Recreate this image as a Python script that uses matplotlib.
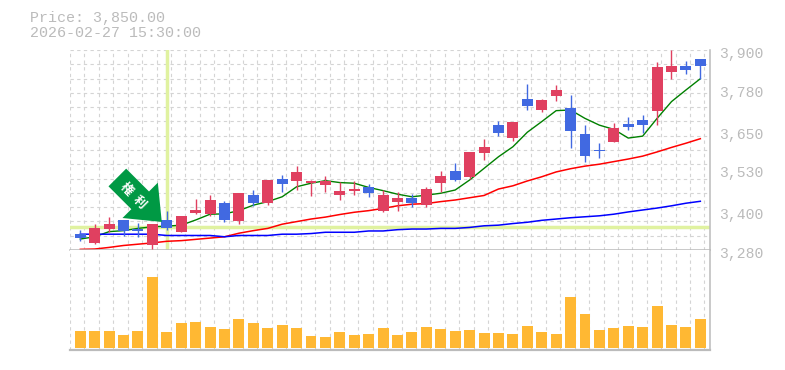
import matplotlib
matplotlib.use('Agg')
import matplotlib.pyplot as plt

# candles, oldest first
opens = [3329, 3302, 3345, 3373, 3345, 3295, 3373, 3336, 3394, 3392, 3426,
         3370, 3450, 3426, 3500, 3494, 3488, 3481, 3450, 3463, 3475, 3401,
         3429, 3441, 3419, 3488, 3525, 3506, 3581, 3667, 3627, 3748, 3714,
         3757, 3720, 3640, 3590, 3615, 3671, 3683, 3711, 3832, 3850, 3872]
highs = [3341, 3361, 3382, 3373, 3365, 3361, 3401, 3385, 3438, 3450, 3432,
         3457, 3466, 3497, 3512, 3540, 3497, 3509, 3491, 3494, 3485, 3466,
         3460, 3454, 3475, 3525, 3550, 3584, 3624, 3680, 3677, 3795, 3748,
         3791, 3760, 3667, 3612, 3674, 3692, 3698, 3863, 3900, 3866, 3872]
lows = [3308, 3299, 3337, 3324, 3320, 3283, 3342, 3336, 3392, 3385, 3367,
        3361, 3416, 3419, 3460, 3466, 3447, 3460, 3435, 3450, 3444, 3398,
        3401, 3413, 3413, 3460, 3494, 3500, 3559, 3633, 3618, 3714, 3708,
        3742, 3596, 3553, 3565, 3615, 3652, 3643, 3667, 3810, 3826, 3810]
closes = [3317, 3348, 3361, 3339, 3340, 3361, 3348, 3385, 3404, 3435, 3373,
          3457, 3426, 3497, 3485, 3522, 3494, 3494, 3463, 3469, 3457, 3450,
          3441, 3426, 3469, 3509, 3497, 3584, 3599, 3643, 3677, 3726, 3745,
          3776, 3649, 3571, 3588, 3658, 3661, 3667, 3847, 3850, 3838, 3850]

# moving averages
ma_short = [3314, 3321, 3337, 3340, 3347, 3352, 3354, 3357, 3373, 3391, 3392,
            3402, 3419, 3430, 3445, 3476, 3487, 3495, 3489, 3487, 3474, 3464,
            3453, 3445, 3450, 3456, 3466, 3497, 3533, 3569, 3600, 3645, 3678,
            3712, 3714, 3688, 3667, 3654, 3627, 3633, 3688, 3740, 3776, 3811]
ma_mid = [3282, 3283, 3288, 3294, 3298, 3302, 3307, 3309, 3313, 3317, 3321,
          3332, 3340, 3347, 3360, 3368, 3376, 3382, 3390, 3397, 3402, 3409,
          3417, 3422, 3424, 3430, 3435, 3442, 3449, 3469, 3479, 3494, 3507,
          3522, 3532, 3540, 3546, 3554, 3562, 3571, 3584, 3598, 3611, 3625]
ma_long = [3329, 3329, 3329, 3329, 3329, 3329, 3325, 3325, 3325, 3325, 3321,
           3325, 3325, 3325, 3329, 3329, 3331, 3335, 3335, 3335, 3339, 3339,
           3343, 3345, 3345, 3347, 3347, 3350, 3355, 3357, 3362, 3366, 3372,
           3376, 3380, 3383, 3386, 3391, 3398, 3404, 3410, 3417, 3425, 3431]

volumes = [51, 51, 51, 39, 51, 213, 48, 75, 78, 63, 57, 87, 75, 60, 69, 60,
           36, 33, 48, 39, 42, 60, 39, 48, 63, 57, 51, 54, 45, 45, 42, 66,
           48, 42, 153, 102, 54, 60, 66, 63, 126, 69, 63, 87]

date_labels = ['', '', '', '', '12/26', '', '', '', '', '1/7', '', '', '', '',
               '1/15', '', '', '', '', '1/22', '', '', '', '', '1/29', '', '',
               '', '', '2/5', '', '', '', '', '2/13', '', '', '', '', '2/20',
               '', '', '', '', '']
price_labels = [3900, 3780, 3650, 3530, 3400, 3280]
event_index = 6
event_price = 3350
arrow_tip = (5.65, 3367)

GRAY = '#bbbbbb'
GRID = '#d4d4d4'
UP = '#e04060'
DOWN = '#4169e1'
MARK = '#e0f2a0'
MONO = 'Liberation Mono'
BODY = 0.76

n = len(closes)
xs = list(range(n))
xlim = (-0.714, 43.67)
grid_x = [k - 0.714 for k in range(45)]

fig = plt.figure(figsize=(7.85, 3.7), dpi=100)
ax = fig.add_axes([70 / 785, 120 / 370, 640 / 785, 200 / 370])
vol = fig.add_axes([70 / 785, 20 / 370, 640 / 785, 100 / 370])

for a in (ax, vol):
    a.set_xlim(*xlim)
    a.set_xticks(grid_x)
    a.tick_params(length=0)
    a.grid(axis='x', color=GRID, lw=0.8, ls=(0, (3, 3)))
    a.set_axisbelow(True)
    for s in ('top', 'left'):
        a.spines[s].set_visible(False)
    for s in ('bottom', 'right'):
        a.spines[s].set_color(GRAY)
        a.spines[s].set_linewidth(1.1)

# price panel
ax.set_ylim(3280, 3900)
ax.set_yticks([3280 + 620 * k / 14 for k in range(15)])
ax.set_yticklabels([])
ax.grid(axis='y', color=GRID, lw=0.8, ls=(0, (3, 3)))
ax.set_xticklabels(date_labels, fontfamily=MONO, fontsize=8, color=GRAY, ha='left')
ax.tick_params(axis='x', pad=6)

ax.axhline(event_price, color=MARK, lw=2.5, zorder=1)
ax.axvline(event_index, ymin=0.01, color=MARK, lw=2.5, zorder=1)

ax.plot(xs, ma_short, color='#008000', lw=1.0, zorder=2)
ax.plot(xs, ma_mid, color='#ff0000', lw=1.1, zorder=2)
ax.plot(xs, ma_long, color='#0000ff', lw=1.1, zorder=2)

for i in xs:
    c = UP if closes[i] >= opens[i] else DOWN
    ax.vlines(i, lows[i], highs[i], color=c, lw=1.0, zorder=3)
    ax.bar(i, abs(closes[i] - opens[i]), BODY, bottom=min(opens[i], closes[i]),
           color=c, zorder=3)

for p in price_labels:
    ax.annotate(f'{p:,}', (1, p), xycoords=ax.get_yaxis_transform(),
                xytext=(6.5, -2.8), textcoords='offset points', ha='left',
                va='center', fontfamily=MONO, fontsize=10.6, color=GRAY,
                annotation_clip=False)

# ex-rights arrow
ax.annotate('', arrow_tip, xytext=(-32, 32), textcoords='offset points',
            annotation_clip=False, zorder=5,
            arrowprops=dict(arrowstyle='simple,head_length=22,head_width=36,tail_width=18',
                            mutation_scale=1, color='#009944', lw=0,
                            shrinkA=0, shrinkB=0))
for ch, off in (('権', (-25.7, 23.5)), ('利', (-16.1, 14.2))):
    ax.annotate(ch, arrow_tip, xytext=off, textcoords='offset points',
                ha='center', va='center', rotation=-45, rotation_mode='anchor',
                color='white', fontsize=9, fontweight='bold',
                fontfamily='Noto Sans CJK JP', zorder=6)

# volume panel
vol.bar(xs, volumes, BODY, color='#ffb833', zorder=3)
vol.set_ylim(-6, 294)
vol.set_yticks([])
vol.set_xticklabels([])
vol.spines['bottom'].set_linewidth(1.6)

fig.text(30 / 785, 1 - 18 / 370, 'Price: 3,850.00', fontfamily=MONO, fontsize=10.8,
         color=GRAY, va='center')
fig.text(30 / 785, 1 - 33 / 370, '2026-02-27 15:30:00', fontfamily=MONO, fontsize=10.8,
         color=GRAY, va='center')

fig.savefig('out.png', dpi=100)
